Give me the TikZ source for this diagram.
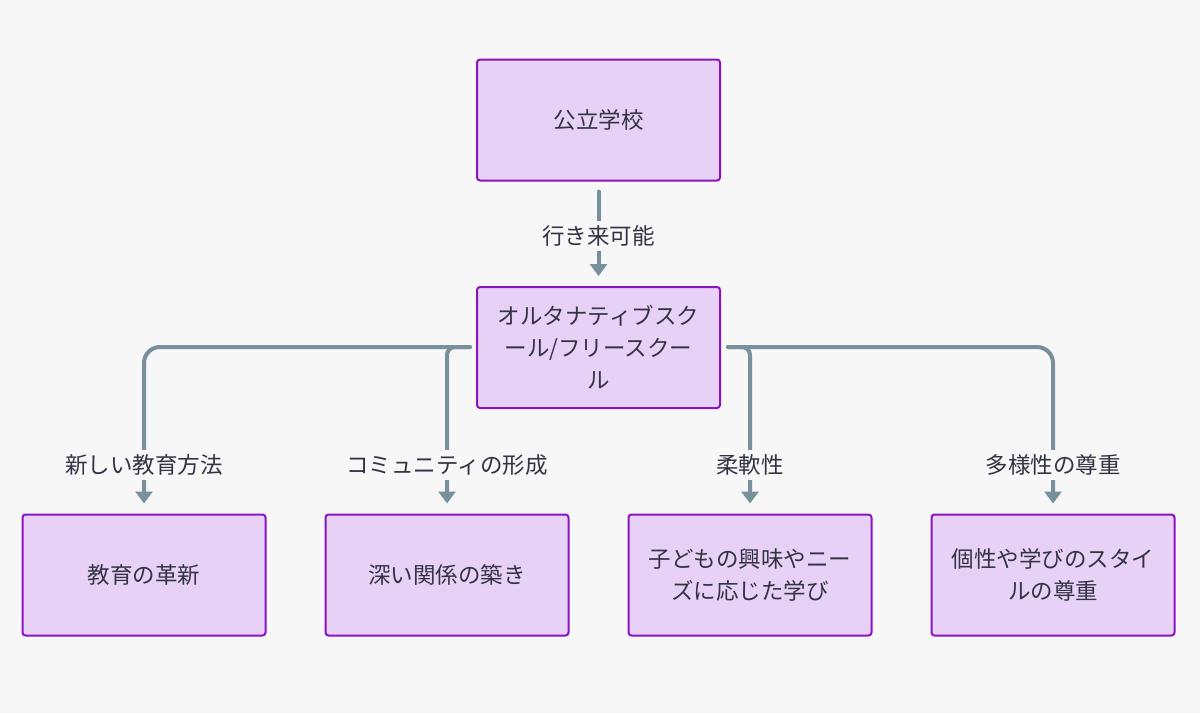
\documentclass[tikz,border=0pt]{standalone}
\usepackage{fontspec}
\setmainfont{Noto Sans CJK JP}
\usetikzlibrary{arrows.meta}
\definecolor{bg}{HTML}{F7F7F7}
\definecolor{boxfill}{HTML}{E8D1F6}
\definecolor{boxdraw}{HTML}{8A14BE}
\definecolor{edge}{HTML}{78909C}
\definecolor{txt}{HTML}{333344}
\tikzset{
  box/.style={draw=boxdraw, fill=boxfill, line width=2pt, rounded corners=3pt,
    minimum width=243pt, minimum height=121pt, text width=220pt, align=center,
    font=\fontsize{22.5}{32}\selectfont, text=txt, inner sep=0pt},
  conn/.style={draw=edge, line width=4pt, line cap=round,
    -{Triangle[width=17pt,length=12pt]}},
  lbl/.style={fill=bg, text=txt, font=\fontsize{22.5}{26}\selectfont, inner sep=5pt}
}
\begin{document}
\begin{tikzpicture}[x=1pt,y=-1pt]
\path[fill=bg] (0,0) rectangle (1200,713);
\useasboundingbox (0,0) rectangle (1200,713);
\node[box] (top) at (598.5,120) {公立学校};
\node[box] (mid) at (598.5,347.5) {オルタナティブスク\\ール/フリースクー\\ル};
\node[box] (b1) at (144,575) {教育の革新};
\node[box] (b2) at (447,575) {深い関係の築き};
\node[box] (b3) at (750,575) {子どもの興味やニー\\ズに応じた学び};
\node[box] (b4) at (1053,575) {個性や学びのスタイ\\ルの尊重};
\coordinate (ml) at (470,347);
\coordinate (mr) at (728,347);
\draw[conn] ([yshift=-10pt]top.south) -- ([yshift=10pt]mid.north);
\draw[conn, rounded corners=16pt] (ml) -| ([yshift=10pt]b1.north);
\draw[conn, rounded corners=8pt] (ml) -| ([yshift=10pt]b2.north);
\draw[conn, rounded corners=8pt] (mr) -| ([yshift=10pt]b3.north);
\draw[conn, rounded corners=16pt] (mr) -| ([yshift=10pt]b4.north);
\node[lbl] (l0) at (598.5,236) {行き来可能};
\node[lbl] (l1) at (144,465) {新しい教育方法};
\node[lbl] (l2) at (447,465) {コミュニティの形成};
\node[lbl] (l3) at (750,465) {柔軟性};
\node[lbl] (l4) at (1053,465) {多様性の尊重};
\end{tikzpicture}
\end{document}
